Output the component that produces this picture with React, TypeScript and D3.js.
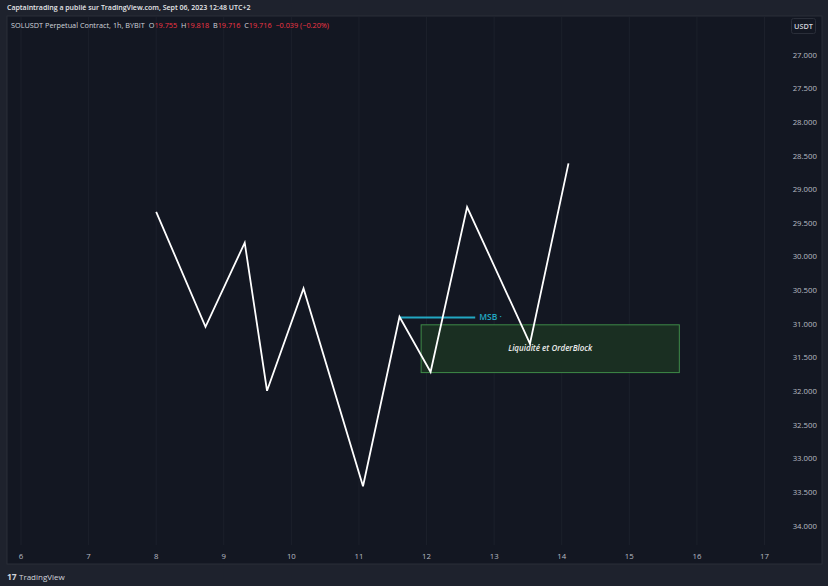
import React from "react";
import * as d3 from "d3";

const W = 828;
const H = 586;

// Zigzag path (time index, price)
const pathX = [8.0, 8.73, 9.31, 9.64, 10.18, 11.06, 11.6, 12.06, 12.6, 13.53, 14.1];
const pathY = [29.33, 31.04, 29.79, 31.99, 30.47, 33.41, 30.89, 31.71, 29.26, 31.29, 28.61];

// MSB line
const msbX = [11.6, 12.72];
const msbPrice = 30.9;

// Liquidity / order block box
const boxX = [11.92, 15.74];
const boxY = [31.01, 31.72];

const xTicks = [6, 7, 8, 9, 10, 11, 12, 13, 14, 15, 16, 17];
const yTicks = [27, 27.5, 28, 28.5, 29, 29.5, 30, 30.5, 31, 31.5, 32, 32.5, 33, 33.5, 34];

const legendParts = [
  { t: "SOLUSDT Perpetual Contract, 1h, BYBIT  ", c: "#d1d4dc" },
  { t: "O", c: "#d1d4dc" },
  { t: "19.755  ", c: "#f23645" },
  { t: "H", c: "#d1d4dc" },
  { t: "19.818  ", c: "#f23645" },
  { t: "B", c: "#d1d4dc" },
  { t: "19.716  ", c: "#f23645" },
  { t: "C", c: "#d1d4dc" },
  { t: "19.716  ", c: "#f23645" },
  { t: "\u22120.039 (\u22120.20%)", c: "#f23645" },
];

export default function App() {
  const x = d3.scaleLinear().domain([6, 17]).range([21, 764.5]);
  const y = d3.scaleLinear().domain([27, 34]).range([55, 526]);
  const line = d3
    .line<number>()
    .x((_, i) => x(pathX[i]))
    .y((d) => y(d));
  const font = "'Open Sans', 'DejaVu Sans', sans-serif";

  return (
    <svg
      width={W}
      height={H}
      style={{ position: "absolute", left: 0, top: 0, display: "block" }}
      fontFamily={font}
    >
      <rect x={0} y={0} width={W} height={H} fill="#1e222d" />
      <text x={7} y={9.5} fontSize={7} fill="#e6e7ea" fontWeight={600}>
        Captaintrading a publié sur TradingView.com, Sept 06, 2023 12:48 UTC+2
      </text>
      {/* chart panel */}
      <rect x={7} y={16} width={815} height={548} fill="#131722" stroke="#2a2e39" strokeWidth={1} />
      {/* vertical grid */}
      {xTicks.map((t) => (
        <line key={"g" + t} x1={x(t)} x2={x(t)} y1={17} y2={545} stroke="#1c202b" strokeWidth={1} />
      ))}
      {/* legend */}
      <text x={11} y={27.5} fontSize={7.3} xmlSpace="preserve" style={{ whiteSpace: "pre" }}>
        {legendParts.map((p, i) => (
          <tspan key={i} fill={p.c}>
            {p.t}
          </tspan>
        ))}
      </text>
      {/* USDT badge */}
      <rect x={791.5} y={18.5} width={24} height={15} rx={2} fill="#131722" stroke="#2a2e39" />
      <text x={803.5} y={29} fontSize={7.3} fill="#d1d4dc" textAnchor="middle" fontWeight={600}>
        USDT
      </text>
      {/* price axis */}
      {yTicks.map((t) => (
        <text key={"y" + t} x={817} y={y(t) + 2.6} fontSize={7.8} fill="#b8bbc3" textAnchor="end">
          {d3.format(".3f")(t)}
        </text>
      ))}
      {/* time axis */}
      {xTicks.map((t) => (
        <text key={"x" + t} x={x(t)} y={559} fontSize={7.8} fill="#b8bbc3" textAnchor="middle">
          {t}
        </text>
      ))}
      {/* order block box */}
      <rect
        x={x(boxX[0])}
        y={y(boxY[0])}
        width={x(boxX[1]) - x(boxX[0])}
        height={y(boxY[1]) - y(boxY[0])}
        fill="#1a2f22"
        stroke="#3f8a48"
        strokeWidth={1}
      />
      <text
        x={(x(boxX[0]) + x(boxX[1])) / 2}
        y={(y(boxY[0]) + y(boxY[1])) / 2 + 2.5}
        fontSize={8}
        fill="#ececec"
        fontStyle="italic"
        fontWeight={600}
        textAnchor="middle"
      >
        Liquidité et OrderBlock
      </text>
      {/* MSB line */}
      <line x1={x(msbX[0])} x2={x(msbX[1])} y1={y(msbPrice)} y2={y(msbPrice)} stroke="#22a7c2" strokeWidth={2} />
      <text x={x(msbX[1]) + 4} y={y(msbPrice) + 3} fontSize={8.5} fill="#22a7c2" fontWeight={600}>
        MSB ·
      </text>
      {/* zigzag */}
      <path d={line(pathY) || ""} fill="none" stroke="#ffffff" strokeWidth={1.8} strokeLinejoin="miter" />
      {/* footer */}
      <text x={7} y={580} fontSize={8.5} fill="#d1d4dc" fontWeight={700}>
        17
      </text>
      <text x={19} y={580} fontSize={8} fill="#d1d4dc">
        TradingView
      </text>
    </svg>
  );
}
